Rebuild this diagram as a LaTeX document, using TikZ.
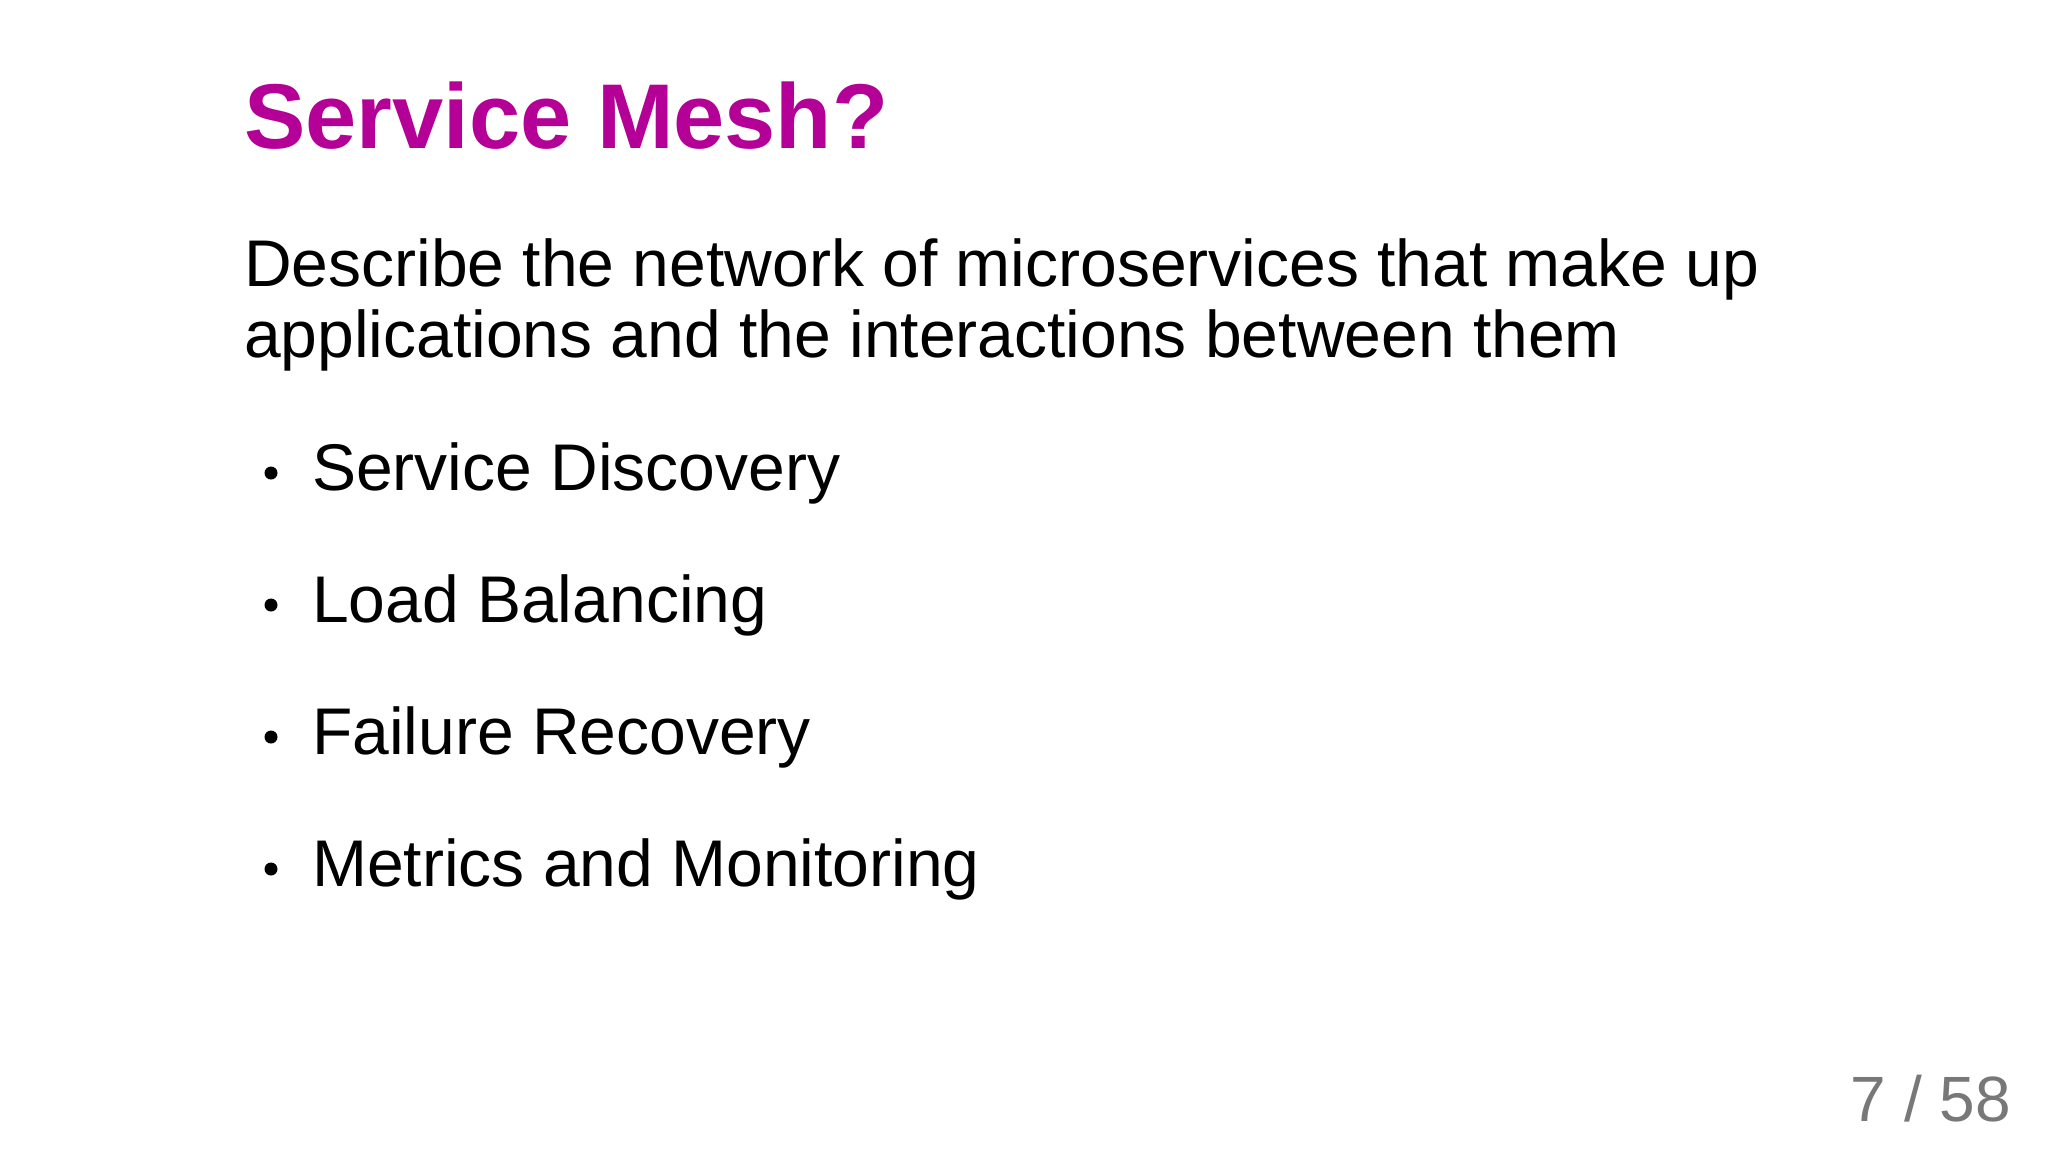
\documentclass[tikz,border=0pt]{standalone}
\usepackage{fontspec}
\setmainfont{Liberation Sans}
\definecolor{titlec}{RGB}{180,0,150}
\definecolor{pagec}{RGB}{120,120,120}
\begin{document}
\begin{tikzpicture}[x=1pt,y=-1pt,
  body/.style={anchor=base west,inner sep=0pt,font=\fontsize{66}{71}\selectfont},
  bul/.style={circle,fill=black,inner sep=0pt,minimum size=13pt}]
\useasboundingbox[fill=white] (0,0) rectangle (2048,1154);
\node[anchor=base west,inner sep=0pt,text=titlec,font=\fontsize{92}{100}\selectfont\bfseries] (title) at (244,148) {Service Mesh?};
\node[body] (d1) at (244,286) {Describe the network of microservices that make up};
\node[body] (d2) at (244,357) {applications and the interactions between them};
\foreach \t/\y/\n in {Service Discovery/490/a,Load Balancing/622/b,Failure Recovery/754/c,Metrics and Monitoring/886/d}{
  \node[bul] (b\n) at (271,\y-17) {};
  \node[body] (t\n) at (312,\y) {\t};
}
\node[anchor=base east,inner sep=0pt,text=pagec,font=\fontsize{64}{70}\selectfont] (pg) at (2011,1121) {7 / 58};
\end{tikzpicture}
\end{document}
